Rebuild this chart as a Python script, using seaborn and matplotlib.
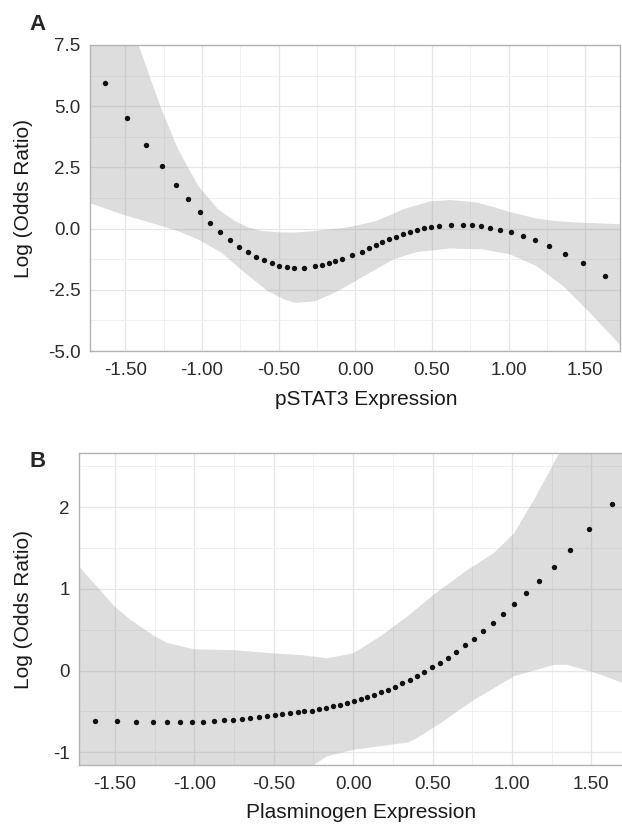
import numpy as np
import pandas as pd
import matplotlib
matplotlib.use('Agg')
import matplotlib.pyplot as plt
import seaborn as sns
from matplotlib.ticker import MultipleLocator, FormatStrFormatter

# panel A: pSTAT3, points of the fitted curve
pstat3_x = [-1.630, -1.486, -1.364, -1.262, -1.171, -1.089, -1.014, -0.945, -0.880, -0.817,
            -0.758, -0.702, -0.647, -0.595, -0.545, -0.495, -0.447, -0.400, -0.332, -0.261,
            -0.217, -0.171, -0.130, -0.087, -0.020, 0.044, 0.087, 0.133, 0.176, 0.220,
            0.263, 0.309, 0.357, 0.402, 0.448, 0.493, 0.544, 0.622, 0.702, 0.759,
            0.817, 0.880, 0.945, 1.015, 1.091, 1.173, 1.263, 1.367, 1.487, 1.630]
pstat3_y = [5.93, 4.51, 3.41, 2.54, 1.80, 1.20, 0.67, 0.23, -0.15, -0.47,
            -0.74, -0.96, -1.15, -1.30, -1.42, -1.52, -1.57, -1.59, -1.59, -1.53,
            -1.49, -1.42, -1.34, -1.23, -1.09, -0.94, -0.81, -0.68, -0.56, -0.44,
            -0.33, -0.22, -0.12, -0.04, 0.03, 0.08, 0.12, 0.16, 0.16, 0.15,
            0.11, 0.04, -0.04, -0.14, -0.29, -0.47, -0.73, -1.02, -1.42, -1.94]

# panel A: confidence band edges
pstat3_hi_x = [-1.743, -1.55, -1.428, -1.265, -1.156, -1.025, -0.895, -0.786, -0.70, -0.613,
               -0.50, -0.395, -0.28, -0.178, -0.08, 0.018, 0.139, 0.313, 0.487, 0.617,
               0.791, 0.90, 1.008, 1.182, 1.30, 1.443, 1.726]
pstat3_hi_y = [13.3, 9.9, 7.76, 4.89, 3.25, 1.75, 0.79, 0.31, 0.06, -0.10,
               -0.15, -0.16, -0.11, -0.03, 0.02, 0.14, 0.31, 0.79, 1.11, 1.17,
               1.07, 0.88, 0.68, 0.41, 0.31, 0.25, 0.18]
pstat3_lo_x = [-1.743, -1.525, -1.265, -1.15, -1.025, -0.873, -0.721, -0.569, -0.46, -0.395,
               -0.265, -0.134, 0.0, 0.096, 0.248, 0.40, 0.617, 0.834, 1.008, 1.182,
               1.356, 1.53, 1.726]
pstat3_lo_y = [1.07, 0.59, 0.11, -0.12, -0.44, -0.98, -1.80, -2.56, -2.90, -3.03,
               -2.97, -2.62, -2.15, -1.80, -1.26, -0.96, -0.81, -0.85, -1.05, -1.53,
               -2.35, -3.44, -4.74]

# panel B: plasminogen, points of the fitted curve
plasm_x = [-1.627, -1.484, -1.364, -1.261, -1.171, -1.089, -1.013, -0.944, -0.879, -0.816,
           -0.759, -0.702, -0.648, -0.595, -0.545, -0.494, -0.446, -0.397, -0.349, -0.307,
           -0.261, -0.217, -0.173, -0.129, -0.084, -0.040, 0.004, 0.048, 0.090, 0.134,
           0.177, 0.221, 0.265, 0.309, 0.355, 0.401, 0.448, 0.496, 0.544, 0.595,
           0.647, 0.702, 0.758, 0.817, 0.880, 0.946, 1.015, 1.091, 1.173, 1.263,
           1.364, 1.484, 1.627]
plasm_y = [-0.613, -0.620, -0.630, -0.633, -0.633, -0.633, -0.630, -0.625, -0.617, -0.610,
           -0.600, -0.590, -0.580, -0.567, -0.555, -0.543, -0.530, -0.518, -0.506, -0.500,
           -0.490, -0.473, -0.453, -0.436, -0.416, -0.396, -0.375, -0.350, -0.320, -0.298,
           -0.265, -0.232, -0.196, -0.155, -0.110, -0.065, -0.016, 0.041, 0.098, 0.160,
           0.233, 0.311, 0.392, 0.483, 0.581, 0.690, 0.810, 0.948, 1.100, 1.270,
           1.480, 1.730, 2.040]

# panel B: confidence band edges
plasm_hi_x = [-1.724, -1.6, -1.5, -1.40, -1.25, -1.173, -1.0, -0.75, -0.5, -0.33,
              -0.164, 0.0, 0.172, 0.34, 0.508, 0.719, 0.887, 1.013, 1.139, 1.297,
              1.5, 1.75]
plasm_hi_y = [1.27, 1.0, 0.78, 0.62, 0.42, 0.34, 0.26, 0.25, 0.21, 0.19,
              0.15, 0.21, 0.42, 0.66, 0.93, 1.23, 1.44, 1.68, 2.09, 2.66,
              3.4, 4.3]
plasm_lo_x = [-1.75, -1.0, -0.5, -0.25, -0.164, 0.0, 0.193, 0.345, 0.40, 0.55,
              0.76, 1.013, 1.265, 1.35, 1.56, 1.70, 1.75]
plasm_lo_y = [-3.2, -2.2, -1.45, -1.16, -1.05, -0.97, -0.92, -0.88, -0.83, -0.645,
              -0.36, -0.07, 0.07, 0.07, -0.05, -0.155, -0.18]

sns.set_theme(style="white")
plt.rcParams['font.family'] = ['Liberation Sans', 'DejaVu Sans']
plt.rcParams['axes.unicode_minus'] = False

border = '#b3b3b3'


def draw_panel(ax, x, y, hx, hy, lx, ly):
    poly_x = np.concatenate([hx, lx[::-1]])
    poly_y = np.concatenate([hy, ly[::-1]])
    ax.fill(poly_x, poly_y, color='#999999', alpha=0.33, lw=0, zorder=2)
    df = pd.DataFrame({'x': x, 'y': y})
    sns.scatterplot(data=df, x='x', y='y', ax=ax, color='#111111', s=15,
                    linewidth=0, zorder=3)
    ax.set_facecolor('white')
    for s in ax.spines.values():
        s.set_color(border)
        s.set_linewidth(1.0)
    ax.grid(which='major', color='#e6e6e6', lw=0.9, zorder=0)
    ax.grid(which='minor', color='#eeeeee', lw=0.6, zorder=0)
    ax.set_axisbelow(True)
    ax.tick_params(which='major', direction='out', length=3, width=0.8,
                   color=border, labelsize=13.5, labelcolor='#2b2b2b')
    ax.tick_params(axis='x', pad=5)
    ax.tick_params(axis='y', pad=4)
    ax.tick_params(which='minor', length=0)
    ax.xaxis.set_major_locator(MultipleLocator(0.5))
    ax.xaxis.set_minor_locator(MultipleLocator(0.25))
    ax.xaxis.set_major_formatter(FormatStrFormatter('%.2f'))


fig = plt.figure(figsize=(6.22, 8.24), dpi=100)
ax_a = fig.add_axes([0.1447, 0.574, 0.8521, 0.3714])
ax_b = fig.add_axes([0.1275, 0.0716, 0.882, 0.3783])

draw_panel(ax_a, pstat3_x, pstat3_y, pstat3_hi_x, pstat3_hi_y, pstat3_lo_x, pstat3_lo_y)
ax_a.set_xlim(-1.73, 1.726)
ax_a.set_ylim(-5.0, 7.5)
ax_a.yaxis.set_major_locator(MultipleLocator(2.5))
ax_a.yaxis.set_minor_locator(MultipleLocator(1.25))
ax_a.yaxis.set_major_formatter(FormatStrFormatter('%.1f'))
ax_a.set_xlabel('pSTAT3 Expression', fontsize=15, color='#1a1a1a')
ax_a.set_ylabel('Log (Odds Ratio)', fontsize=15, color='#1a1a1a')
ax_a.xaxis.label.set_va('center')
ax_a.yaxis.label.set_va('center')
ax_a.xaxis.set_label_coords(0.521, -0.160)
ax_a.yaxis.set_label_coords(-0.126, 0.5)

draw_panel(ax_b, plasm_x, plasm_y, plasm_hi_x, plasm_hi_y, plasm_lo_x, plasm_lo_y)
ax_b.set_xlim(-1.724, 1.73)
ax_b.set_ylim(-1.156, 2.66)
ax_b.yaxis.set_major_locator(MultipleLocator(1))
ax_b.yaxis.set_minor_locator(MultipleLocator(0.5))
ax_b.yaxis.set_major_formatter(FormatStrFormatter('%d'))
ax_b.set_xlabel('Plasminogen Expression', fontsize=15, color='#1a1a1a')
ax_b.set_ylabel('Log (Odds Ratio)', fontsize=15, color='#1a1a1a')
ax_b.xaxis.label.set_va('center')
ax_b.yaxis.label.set_va('center')
ax_b.xaxis.set_label_coords(0.513, -0.151)
ax_b.yaxis.set_label_coords(-0.1026, 0.5)

fig.text(0.061, 0.9697, 'A', fontsize=16, fontweight='bold', ha='center', va='center')
fig.text(0.061, 0.4405, 'B', fontsize=16, fontweight='bold', ha='center', va='center')

fig.savefig('out.png', dpi=100, facecolor='white')
